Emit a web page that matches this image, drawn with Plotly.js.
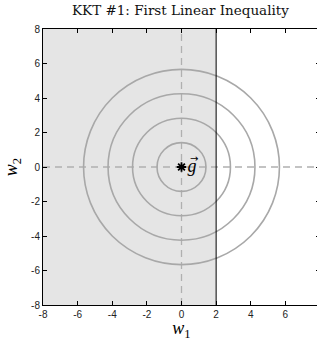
<!DOCTYPE html>
<html><head><meta charset="utf-8">
<script src="https://cdn.plot.ly/plotly-3.0.1.min.js"></script>
<style>html,body{margin:0;padding:0;overflow:hidden;background:#fff}</style>
</head><body><div id="chart"></div>
<script>
// Data
const axisRange = [-8, 8];
const tickVals = [-8, -6, -4, -2, 0, 2, 4, 6, 8];
const tickText = ["-8", "-6", "-4", "-2", "0", "2", "4", "6", "8"];
const contourRadii = [1.414, 2.828, 4.243, 5.657];
const boundaryX = 2;          // w1 <= 2 feasible region
const gradientPoint = {x: [0], y: [0], label: "g"};

const shapes = [];
shapes.push({type: 'rect', xref: 'x', yref: 'y', x0: axisRange[0], x1: boundaryX,
  y0: axisRange[0], y1: axisRange[1], fillcolor: '#e5e5e5', line: {width: 0}, layer: 'below'});
shapes.push({type: 'line', xref: 'x', yref: 'y', x0: 0, x1: 0, y0: axisRange[0], y1: axisRange[1],
  line: {color: '#b0b0b0', width: 1.3, dash: '7px,5px'}, layer: 'below'});
shapes.push({type: 'line', xref: 'x', yref: 'y', x0: axisRange[0], x1: axisRange[1], y0: 0, y1: 0,
  line: {color: '#b0b0b0', width: 1.3, dash: '7px,5px'}, layer: 'below'});
contourRadii.forEach(r => shapes.push({type: 'circle', xref: 'x', yref: 'y',
  x0: -r, x1: r, y0: -r, y1: r, line: {color: '#a8a8a8', width: 1.6}, layer: 'below'}));
shapes.push({type: 'line', xref: 'x', yref: 'y', x0: boundaryX, x1: boundaryX,
  y0: axisRange[0], y1: axisRange[1], line: {color: '#000', width: 1}});

const traces = [{
  type: 'scatter', mode: 'markers+text', x: gradientPoint.x, y: gradientPoint.y,
  marker: {symbol: 'asterisk-open', size: 8, color: '#000', line: {color: '#000', width: 1.8}},
  text: ['<i>' + gradientPoint.label + '</i>'], textposition: 'middle right',
  textfont: {family: 'Liberation Serif, serif', size: 18, color: '#000'}, cliponaxis: false, hoverinfo: 'skip'
}];

const axisCommon = {
  range: axisRange, tickvals: tickVals, ticktext: tickText, showgrid: false, zeroline: false,
  ticks: 'inside', ticklen: 4, tickwidth: 1, tickcolor: '#000', showline: true, linecolor: '#000',
  linewidth: 1, mirror: 'ticks', tickfont: {family: 'Liberation Sans, Arial', size: 10, color: '#222'}
};

const layout = {
  width: 345, height: 341,
  margin: {l: 43, r: 25, t: 29, b: 36},
  paper_bgcolor: '#fff', plot_bgcolor: '#fff', showlegend: false,
  title: {text: 'KKT #1: First Linear Inequality', x: 0.523, xanchor: 'center', y: 0.985, yanchor: 'top',
    font: {family: 'DejaVu Serif, serif', size: 13.5, color: '#111'}},
  xaxis: Object.assign({}, axisCommon, {title: {text: '<i>w</i><sub>1</sub>', standoff: 5,
    font: {family: 'Liberation Serif, serif', size: 18, color: '#000'}}}),
  yaxis: Object.assign({}, axisCommon, {title: {text: '<i>w</i><sub>2</sub>', standoff: 8,
    font: {family: 'Liberation Serif, serif', size: 18, color: '#000'}}}),
  annotations: [{xref: 'x', yref: 'y', x: gradientPoint.x[0], y: gradientPoint.y[0], text: '\u2192',
    showarrow: false, xshift: 12, yshift: 9, font: {family: 'DejaVu Sans', size: 10, color: '#000'}}],
  shapes: shapes
};

Plotly.newPlot('chart', traces, layout, {displayModeBar: false, staticPlot: true});
</script></body></html>
